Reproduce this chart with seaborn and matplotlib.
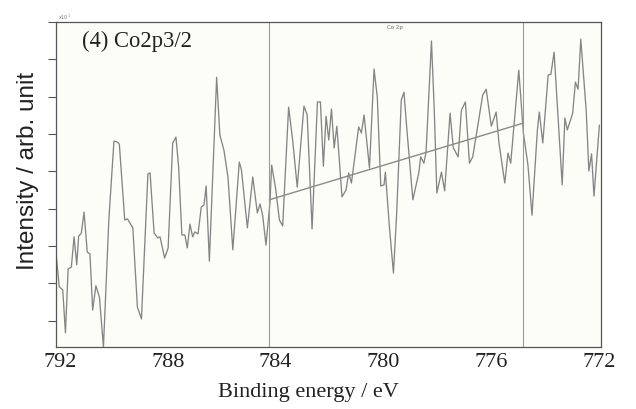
import numpy as np
import pandas as pd
import matplotlib
matplotlib.use("Agg")
import matplotlib.pyplot as plt
import seaborn as sns

# Binding energy (eV) and intensity (arb. unit)
energy = [792.15, 792.03, 791.90, 791.80, 791.70, 791.58, 791.48, 791.38, 791.31, 791.21,
          791.11, 790.99, 790.89, 790.79, 790.67, 790.54, 790.39, 790.19, 790.00, 789.88,
          789.80, 789.60, 789.50, 789.30, 789.13, 788.98, 788.74, 788.66, 788.51, 788.37,
          788.29, 788.12, 787.99, 787.82, 787.70, 787.60, 787.48, 787.37, 787.28, 787.18,
          787.08, 787.00, 786.88, 786.76, 786.66, 786.58, 786.46, 786.19, 786.07, 785.92,
          785.77, 785.59, 785.35, 785.27, 785.05, 784.85, 784.68, 784.58, 784.48, 784.36,
          784.21, 784.15, 784.01, 783.86, 783.74, 783.52, 783.37, 783.20, 782.95, 782.83,
          782.65, 782.45, 782.34, 782.23, 782.13, 782.03, 781.93, 781.83, 781.73, 781.54,
          781.39, 781.29, 781.19, 780.92, 780.82, 780.72, 780.52, 780.35, 780.23, 780.10,
          779.98, 779.93, 779.78, 779.63, 779.51, 779.34, 779.24, 779.14, 778.91, 778.69,
          778.62, 778.50, 778.42, 778.22, 778.12, 778.02, 777.85, 777.73, 777.53, 777.41,
          777.23, 777.11, 776.96, 776.81, 776.69, 776.54, 776.32, 776.19, 776.00, 775.82,
          775.72, 775.50, 775.38, 775.28, 774.98, 774.81, 774.64, 774.49, 774.29, 774.22,
          774.09, 773.89, 773.79, 773.67, 773.37, 773.27, 773.18, 772.98, 772.88, 772.78,
          772.68, 772.48, 772.38, 772.28, 772.19, 771.99]
intensity = [2.82, 1.91, 1.83, 0.68, 2.39, 2.44, 3.25, 2.50, 3.27, 3.35,
             3.91, 2.84, 2.79, 1.29, 1.94, 1.64, 0.30, 3.70, 5.81, 5.79,
             5.73, 3.70, 3.73, 3.49, 1.37, 1.05, 4.93, 4.96, 3.35, 3.22,
             3.25, 2.68, 2.95, 5.76, 5.92, 5.12, 3.30, 3.30, 2.95, 3.59,
             3.25, 3.38, 3.33, 4.05, 4.10, 4.61, 2.60, 7.52, 5.97, 5.57,
             4.85, 2.90, 5.25, 5.04, 3.49, 4.85, 3.89, 4.13, 3.81, 3.03,
             4.18, 5.17, 4.58, 3.70, 3.54, 6.72, 5.84, 4.58, 6.75, 6.51,
             3.46, 6.86, 6.86, 5.14, 6.48, 5.84, 6.67, 5.63, 6.21, 4.32,
             4.50, 4.96, 4.69, 6.19, 6.03, 6.51, 5.09, 7.74, 6.99, 4.61,
             4.64, 4.98, 3.51, 2.28, 3.89, 6.91, 7.12, 6.19, 4.24, 4.96,
             5.39, 5.22, 5.52, 8.49, 6.72, 4.42, 4.98, 4.48, 6.56, 5.63,
             5.39, 6.64, 6.86, 5.22, 5.39, 6.05, 7.04, 7.20, 6.21, 6.59,
             5.79, 4.69, 5.49, 5.22, 7.71, 6.03, 5.17, 3.83, 6.11, 6.59,
             5.76, 7.58, 7.60, 8.19, 4.64, 6.43, 6.11, 6.56, 7.39, 7.20,
             8.54, 6.64, 5.01, 5.47, 4.34, 6.24]

# background region markers and linear background
region_edges = [784.24, 774.83]
bg_energy = [784.24, 774.83]
bg_intensity = [4.24, 6.29]

x_ticks = [792, 788, 784, 780, 776, 772]
x_ticklabels = ["792", "788", "784", "780", "776", "772"]
y_ticks = [1, 2, 3, 4, 5, 6, 7, 8, 9]

sns.set_style("white")

df = pd.DataFrame({"energy": energy, "intensity": intensity})
bg = pd.DataFrame({"energy": bg_energy, "intensity": bg_intensity})

fig = plt.figure(figsize=(6.36, 4.09), dpi=100)
ax = fig.add_axes([56 / 636, 62 / 409, 545 / 636, 325 / 409])
ax.set_facecolor("#fdfdf7")

sns.lineplot(data=df, x="energy", y="intensity", sort=False, color="#858585",
             linewidth=0.95, ax=ax, estimator=None)
sns.lineplot(data=bg, x="energy", y="intensity", sort=False, color="#8a8a8a",
             linewidth=1.0, ax=ax, estimator=None)
for e in region_edges:
    ax.axvline(e, color="#9a9a9a", linewidth=0.8)

ax.set_xlim(792.15, 771.93)
ax.set_ylim(0.3, 9.0)

ax.set_xticks(x_ticks)
ax.set_xticklabels(x_ticklabels, family="Liberation Serif", fontsize=16, color="#222222")
ax.tick_params(axis="x", length=0, pad=4)
ax.set_yticks(y_ticks)
ax.set_yticklabels([])
ax.tick_params(axis="y", direction="out", length=6, width=0.8, color="#555555", left=True)

for s in ax.spines.values():
    s.set_color("#555555")
    s.set_linewidth(0.9)

ax.set_xlabel("")
ax.set_ylabel("")

fig.text(28 / 636, 1 - 171 / 409, "Intensity / arb. unit", rotation=90,
         ha="center", va="center", family="Liberation Sans", fontsize=17.5, color="#222222")
fig.text(308 / 636, 1 - 393 / 409, "Binding energy / eV", ha="center", va="center",
         family="Liberation Serif", fontsize=16, color="#222222")
fig.text(82 / 636, 1 - 41 / 409, "(4) Co2p3/2", ha="left", va="center",
         family="Liberation Serif", fontsize=16.3, color="#222222")
fig.text(395 / 636, 1 - 28 / 409, "Co 2p", ha="center", va="center",
         fontsize=4, color="#666666")
fig.text(58 / 636, 1 - 17 / 409, "x10$^1$", ha="left", va="center",
         fontsize=3.5, color="#777777")

fig.savefig("out.png", dpi=100)
